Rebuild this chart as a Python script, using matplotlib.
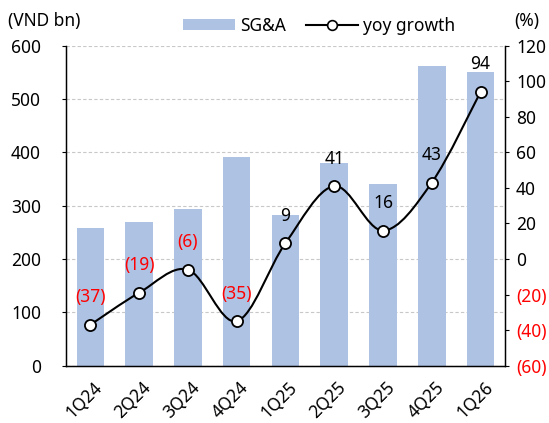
import matplotlib
matplotlib.use("Agg")
import matplotlib.pyplot as plt
import matplotlib.transforms as mtransforms
import numpy as np
from matplotlib.path import Path
from matplotlib.patches import PathPatch, Patch
from matplotlib.lines import Line2D

categories = ["1Q24", "2Q24", "3Q24", "4Q24", "1Q25", "2Q25", "3Q25", "4Q25", "1Q26"]
sga = [258, 270, 293, 392, 283, 380, 341, 562, 551]
yoy = [-37, -19, -6, -35, 9, 41, 16, 43, 94]
left_ticks = [0, 100, 200, 300, 400, 500, 600]
right_ticks = [-60, -40, -20, 0, 20, 40, 60, 80, 100, 120]

bar_color = "#aec2e4"
red = "#ff0000"
FS = 12.5
plt.rcParams['font.family'] = ['Noto Sans', 'DejaVu Sans']

fig = plt.figure(figsize=(5.49, 4.23), dpi=100)
ax = fig.add_axes([0.1202, 0.1355, 0.7996, 0.7565])
x = np.arange(len(categories))
ax.bar(x, sga, width=0.565, color=bar_color, zorder=2)
ax.set_ylim(0, 600)
ax.set_xlim(-0.5, 8.5)
ax.set_yticks(left_ticks)
ax.set_yticklabels([str(v) for v in left_ticks], fontsize=FS)
ax.yaxis.grid(True, linestyle=(0, (3, 2)), color="#c8c8c8", linewidth=0.8, zorder=0)
ax.set_axisbelow(True)
ax.set_xticks(x)
ax.set_xticklabels(categories, rotation=45, ha="right", va="top", rotation_mode="anchor", fontsize=FS)
ax.tick_params(axis="x", length=0, pad=9)
offset = mtransforms.ScaledTranslation(3.0 / 100, 0, fig.dpi_scale_trans)
for lab in ax.get_xticklabels():
    lab.set_transform(lab.get_transform() + offset)
ax.tick_params(axis="y", length=3, width=0.8, pad=15)
ax.spines["top"].set_visible(False)
for s in ["left", "right", "bottom"]:
    ax.spines[s].set_linewidth(1.0)

ax2 = ax.twinx()
ax2.set_ylim(-60, 120)
ax2.set_yticks(right_ticks)
lbls = [f"({abs(v)})" if v < 0 else str(v) for v in right_ticks]
ax2.set_yticklabels(lbls, fontsize=FS)
for t, v in zip(ax2.get_yticklabels(), right_ticks):
    if v < 0:
        t.set_color(red)
ax2.tick_params(axis="y", length=3, width=0.8, pad=5)
ax2.spines["top"].set_visible(False)

# smooth line (Catmull-Rom -> cubic Bezier), like Excel's smoothed line
pts = np.column_stack([x, yoy]).astype(float)
verts = [tuple(pts[0])]
codes = [Path.MOVETO]
n = len(pts)
t = 1 / 6
for i in range(n - 1):
    p0 = pts[i - 1] if i > 0 else pts[i]
    p1 = pts[i]
    p2 = pts[i + 1]
    p3 = pts[i + 2] if i + 2 < n else pts[i + 1]
    c1 = p1 + (p2 - p0) * t
    c2 = p2 - (p3 - p1) * t
    verts += [tuple(c1), tuple(c2), tuple(p2)]
    codes += [Path.CURVE4] * 3
ax2.add_patch(PathPatch(Path(verts, codes), facecolor="none", edgecolor="black",
                        linewidth=1.5, zorder=3))
ax2.plot(x, yoy, linestyle="none", marker="o", markersize=8, markerfacecolor="white",
         markeredgecolor="black", markeredgewidth=1.3, zorder=4)
for xi, v in zip(x, yoy):
    txt = f"({abs(v)})" if v < 0 else str(v)
    ax2.annotate(txt, (xi, v), xytext=(0, 19.8), textcoords="offset points", ha="center",
                 va="center", fontsize=FS, color=red if v < 0 else "black", zorder=5)

fig.text(8 / 549, 0.950, "(VND bn)", fontsize=FS, va="center", ha="left")
fig.text(514 / 549, 0.950, "(%)", fontsize=FS, va="center", ha="left")

handles = [Patch(facecolor=bar_color, edgecolor="none"),
           Line2D([0], [0], color="black", linewidth=1.5, marker="o", markersize=7,
                  markerfacecolor="white", markeredgecolor="black", markeredgewidth=1.2)]
fig.legend(handles, ["SG&A", "yoy growth"], loc="center", bbox_to_anchor=(0.581, 0.939),
           ncol=2, frameon=False, fontsize=FS, handlelength=3.0, handleheight=0.6,
           columnspacing=1.15, handletextpad=0.3, borderpad=0, borderaxespad=0)

fig.savefig("out.png", dpi=100)
